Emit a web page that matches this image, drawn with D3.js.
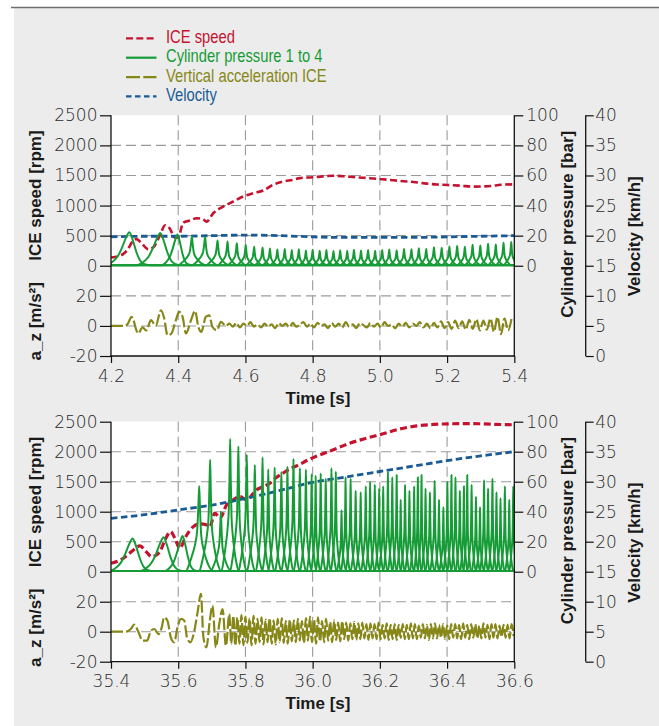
<!DOCTYPE html>
<html><head><meta charset="utf-8">
<script src="https://cdn.jsdelivr.net/npm/d3@7"></script>
<style>
html,body{margin:0;padding:0;background:#fff;}
svg{display:block;}
</style></head><body>
<svg id="chart" width="659" height="726"></svg>
<script>
// ---------------- DATA ----------------
const legendLabels = ["ICE speed", "Cylinder pressure 1 to 4", "Vertical acceleration ICE", "Velocity"];
const rpmTicks = [0, 500, 1000, 1500, 2000, 2500];
const azTicks = [-20, 0, 20];
const pressureTicks = [0, 20, 40, 60, 80, 100];
const velocityTicks = [0, 5, 10, 15, 20, 25, 30, 35, 40];
const topTimeTicks = [4.2, 4.4, 4.6, 4.8, 5.0, 5.2, 5.4];
const bottomTimeTicks = [35.4, 35.6, 35.8, 36.0, 36.2, 36.4, 36.6];

// --- top panel (4.2 .. 5.4 s)
const topSpeedT = [4.200,4.227,4.247,4.266,4.276,4.291,4.311,4.326,4.346,4.361,4.375,4.390,4.400,4.415,4.435,4.455,4.474,4.484,4.504,4.534,4.563,4.593,4.623,4.653,4.682,4.712,4.742,4.762,4.800,4.830,4.860,4.890,4.930,4.970,5.000,5.040,5.070,5.100,5.140,5.170,5.200,5.240,5.280,5.310,5.330,5.360,5.400];
const topSpeedRpm = [138,166,249,415,443,374,274,307,507,673,618,468,470,717,751,790,773,733,872,983,1066,1150,1205,1250,1345,1400,1428,1456,1470,1485,1495,1488,1470,1455,1441,1420,1405,1391,1365,1350,1342,1330,1314,1318,1325,1345,1353];
const topVelT = [4.2,4.3,4.4,4.5,4.6,4.7,4.8,4.9,5.0,5.1,5.2,5.3,5.4];
const topVelKmh = [19.8,19.9,19.9,20.0,20.1,20.0,19.8,19.7,19.7,19.7,19.8,19.9,20.0];
const topPeakT = [4.2545,4.3466,4.398,4.4407,4.480,4.517,4.5467,4.5744,4.601,4.626,4.651,4.673,4.695,4.717,4.738,4.759,4.780,4.800,4.821,4.841,4.862,4.882,4.903,4.923,4.944,4.965,4.986,5.007,5.028,5.050,5.072,5.094,5.116,5.138,5.161,5.184,5.207,5.230,5.253,5.276,5.299,5.322,5.345,5.368,5.391];
const topPeakBar = [22.3,21.8,20.7,19.5,19.1,16.8,16.1,14.9,13.8,12.6,12.2,11.5,10.8,11.2,10.4,10.9,10.2,10.6,10.0,10.5,9.8,10.3,9.9,10.6,10.1,10.4,9.9,10.5,10.8,10.3,11.2,10.9,11.6,11.2,12.3,11.9,12.8,13.2,12.6,13.9,13.4,14.6,14.1,15.3,15.8];
const topAzT = [4.200,4.240,4.250,4.2614,4.281,4.294,4.305,4.319,4.333,4.3486,4.3585,4.368,4.380,4.393,4.403,4.413,4.423,4.438,4.450,4.460,4.469,4.482,4.492,4.502,4.515,4.527,4.542];
const topAzV = [0,0,1.5,6,-5,-1,-3,3.8,0,10.4,4.9,-6.2,-5,3.8,9.3,6,-5,3.8,10,-0.7,-4,6,7,-0.7,-2.9,2.7,0];
// sampled every 0.0105 s starting at 4.552 s
const topAzTailStart = 4.552, topAzTailStep = 0.0105;
const topAzTail = [1.5,-0.5,2,-1,1.5,0,2.5,-0.5,1,-1,
  1.5,-0.5,1,-1.5,2,0,1.5,-1,2,-0.5,
  1,2.5,-0.5,1.5,-1,2,0,1,-1.5,2,
  -0.5,1.5,-1,2.5,-0.5,1,-1.5,2,0.5,-1,
  2,-0.5,1.5,-1,2.5,0,1,-1.5,1.5,-0.5,
  2,-1,1.5,0,2.5,-1,1.5,-1.5,2,-1,
  3,-1.5,2.5,-2,3.5,-1.5,3,-2.5,4,-2,
  4.5,-3,3.5,-2.5,5,-4,6,-5.5,5,-3,5];

// --- bottom panel (35.4 .. 36.6 s)
const botSpeedT = [35.400,35.430,35.460,35.486,35.505,35.521,35.545,35.560,35.577,35.590,35.605,35.620,35.645,35.664,35.680,35.694,35.709,35.724,35.744,35.765,35.783,35.803,35.833,35.853,35.873,35.890,35.912,35.935,35.962,35.985,36.010,36.060,36.110,36.160,36.210,36.260,36.310,36.360,36.410,36.460,36.500,36.550,36.600];
const botSpeedRpm = [140,200,330,429,330,250,330,520,668,560,390,560,751,796,790,751,975,891,1113,1200,1252,1197,1364,1420,1475,1560,1642,1720,1790,1860,1920,2030,2140,2225,2300,2380,2430,2455,2465,2468,2465,2455,2448];
const botVelT = [35.4,35.5,35.6,35.7,35.8,35.9,36.0,36.1,36.2,36.3,36.4,36.5,36.6];
const botVelKmh = [23.9,24.5,25.3,26.1,27.2,28.5,29.9,30.8,31.7,32.6,33.5,34.3,35.0];
const botPeakT = [35.4644,35.5565,35.613,35.6625,35.695,35.727,35.7546,35.779,35.804,35.828,35.851,35.868,35.887,35.907,35.925,35.943,35.962,35.980,35.997,36.009,36.024,36.039,36.056,36.069,36.086,36.098,36.113,36.128,36.143,36.158,36.171,36.185,36.198,36.210,36.224,36.237,36.250,36.262,36.275,36.288,36.302,36.313,36.324,36.336,36.349,36.363,36.376,36.389,36.401,36.413,36.425,36.438,36.450,36.460,36.473,36.486,36.498,36.510,36.522,36.535,36.547,36.559,36.572,36.585,36.597];
const botPeakBar = [22.2,22.9,23.8,57.1,74.6,40,88.4,83.5,78,71.2,76.2,68.3,69.5,66.5,70,75.2,69,68,65,64,65.5,62,69,66.7,41,63,62,54,53,57,60,58,55.5,57,66.7,63,64.4,48,58,54,57,63,64.4,55.5,53,60.7,48,43,60,64.4,63,54,57,64.4,58,50,43,61,55.5,62,53,49,57,48,57];
const botAzT = [35.400,35.4446,35.459,35.469,35.481,35.494,35.507,35.519,35.529,35.541,35.551,35.558,35.568,35.578,35.588,35.598,35.608,35.618,35.626,35.636,35.646,35.6576,35.6675,35.675,35.684,35.694,35.702,35.712,35.722,35.732,35.742];
const botAzV = [0,0,1.8,4.7,0.2,-6,-6,0.7,1.8,-1.6,2.9,9.6,7.3,-3.8,-7.1,2.9,8.5,7.5,-3.8,-7.1,-1.5,12.9,25.2,-3.8,-10.5,7.3,17.4,-10.5,5,15,-9.4];
// sampled every 0.006 s starting at 35.752 s
const botAzTailStart = 35.752, botAzTailStep = 0.006;
const botAzTail = [11.8,-8.2,10.7,-9.4,9.5,-8,11,-9,
  10,-7.5,9,-9,10.5,-8,8.5,-7,
  9.5,-8.5,8,-7,9,-8,7.5,-8.5,
  8.5,-7,9,-7.5,7,-8,8,-6.5,
  7.5,-7,8.5,-6,7,-7.5,9,-6,
  10,-7,8,-8,9.5,-6.5,7,-7,
  8.5,-6,6.5,-7,7.5,-5.5,6,-6.5,
  7,-5,6,-6,5.5,-5,6.5,-5.5,
  5.5,-5,6,-4.5,5,-5.5,5.5,-4.5,
  5,-5,6,-5,4.5,-4.5,5.5,-5.5,
  4.5,-5,5,-5.5,4.5,-4,5,-5,
  4.5,-5,5.5,-4.5,5,-5,4,-4,
  5,-4.5,4.5,-5.5,5,-4.5,5.5,-4.5,
  4.5,-4,5,-5,4,-5,5,-4,
  5,-4.5,4.5,-5,5.5,-4,4.5,-5,
  5,-4,5,-4.5,4,-4.5,5.5,-4,
  4.5,-5,5,-4,5,-4.5,4,-3.5,
  4.5,-4,4.5,-4.5,5,-3];

// ---------------- STYLE ----------------
const C = {red:"#c4132f", green:"#169c37", olive:"#878718", blue:"#1a5b96"};
const TICKFONT = "'DejaVu Sans', sans-serif";
const TITLEFONT = "'Liberation Sans', Arial, sans-serif";
const LEGFONT = "'Liberation Sans', Arial, sans-serif";

const svg = d3.select("#chart");
svg.append("rect").attr("x",14).attr("y",8).attr("width",645).attr("height",718).attr("fill","#ebeceb");
svg.append("line").attr("x1",11).attr("x2",659).attr("y1",7.5).attr("y2",7.5).attr("stroke","#6f6f6f").attr("stroke-width",1.6);

// legend
const legStyles = [
  {c:C.red, dash:"7,3.3", w:2.4},
  {c:C.green, dash:null, w:2.2},
  {c:C.olive, dash:"14,3.3", w:2.4},
  {c:C.blue, dash:"5.5,3.5", w:2.4}
];
const legBase = [43, 62.3, 81.7, 101];
legendLabels.forEach((lab,i)=>{
  const s = legStyles[i];
  const ln = svg.append("line").attr("x1",126).attr("x2",156.5)
    .attr("y1",legBase[i]-4.6).attr("y2",legBase[i]-4.6)
    .attr("stroke",s.c).attr("stroke-width",s.w);
  if (s.dash) ln.attr("stroke-dasharray",s.dash);
  svg.append("text").attr("transform",`translate(166,${legBase[i]}) scale(0.82,1)`).text(lab)
    .attr("fill",s.c).attr("font-family",LEGFONT).attr("font-size",18);
});

// peak outline shapes (offset in units of half-width, fraction of peak)
const roundShape = [[-1,0],[-0.75,0.08],[-0.5,0.26],[-0.3,0.55],[-0.15,0.82],[0,1],[0.15,0.75],[0.3,0.4],[0.45,0.15],[0.65,0.03],[0.9,0]];
const spikeShape = [[-1,0],[-0.75,0.08],[-0.5,0.2],[-0.3,0.32],[-0.15,0.48],[-0.06,0.78],[0,1],[0.06,0.72],[0.15,0.42],[0.3,0.27],[0.5,0.15],[0.75,0.05],[1,0]];

function drawPanel(cfg, idx) {
  const left = 111, right = 514.3, y0 = cfg.y0, step = cfg.step;
  const bottom = y0 + 8*step;
  const x = d3.scaleLinear().domain([cfg.ticks[0], cfg.ticks[cfg.ticks.length-1]]).range([left,right]);
  const yR = d3.scaleLinear().domain([0,2500]).range([y0+5*step, y0]);
  const yA = d3.scaleLinear().domain([-20,20]).range([y0+8*step, y0+6*step]);
  const yP = d3.scaleLinear().domain([0,100]).range([y0+5*step, y0]);
  const yV = d3.scaleLinear().domain([0,40]).range([y0+8*step, y0]);
  const g = svg.append("g");

  g.append("rect").attr("x",left).attr("y",y0).attr("width",right-left).attr("height",bottom-y0).attr("fill","#fff");

  // grid
  const grid = g.append("g").attr("stroke","#9a9a9a").attr("stroke-width",1.1).attr("stroke-dasharray","10,5");
  cfg.ticks.slice(1,-1).forEach(t=>grid.append("line").attr("x1",x(t)).attr("x2",x(t)).attr("y1",y0).attr("y2",bottom));
  [500,1000,1500,2000].forEach(r=>grid.append("line").attr("x1",left).attr("x2",right).attr("y1",yR(r)).attr("y2",yR(r)));
  [0,20].forEach(a=>grid.append("line").attr("x1",left).attr("x2",right).attr("y1",yA(a)).attr("y2",yA(a)));

  const clipId = "clip"+idx;
  svg.append("clipPath").attr("id",clipId).append("rect").attr("x",left).attr("y",y0-3).attr("width",right-left).attr("height",bottom-y0+3);
  const plot = g.append("g").attr("clip-path",`url(#${clipId})`);

  // ICE speed
  const spd = cfg.speedT.map((t,i)=>[t,cfg.speedRpm[i]]);
  plot.append("path").attr("d", d3.line().x(d=>x(d[0])).y(d=>yR(d[1])).curve(d3.curveMonotoneX)(spd))
    .attr("fill","none").attr("stroke",C.red).attr("stroke-width",cfg.redW).attr("stroke-dasharray","7,3.5");
  // velocity
  const vel = cfg.velT.map((t,i)=>[t,cfg.velKmh[i]]);
  plot.append("path").attr("d", d3.line().x(d=>x(d[0])).y(d=>yV(d[1])).curve(d3.curveMonotoneX)(vel))
    .attr("fill","none").attr("stroke",C.blue).attr("stroke-width",2.8).attr("stroke-dasharray","6.5,3.5");

  // cylinder pressures (4 cylinders fire in turn)
  const T = cfg.peakT, P = cfg.peakBar, n = T.length;
  const cyl = [[],[],[],[]];
  const t0 = x.domain()[0], t1 = x.domain()[1];
  cyl.forEach(c=>c.push([t0-0.2,0.4]));
  for (let i=0;i<n;i++) {
    const dPrev = i>0 ? T[i]-T[i-1] : T[1]-T[0];
    const dNext = i<n-1 ? T[i+1]-T[i] : dPrev;
    const avg = (dPrev+dNext)/2;
    const round = avg > 0.045;
    const h = round ? Math.min(avg, 0.07) : Math.min(avg, 0.04);
    (round ? roundShape : spikeShape).forEach(([dx,f])=>cyl[i%4].push([T[i]+dx*h, 0.4+(P[i]-0.4)*f]));
  }
  cyl.forEach(c=>c.push([t1+0.2,0.4]));
  const pl = d3.line().x(d=>x(d[0])).y(d=>yP(d[1])).curve(d3.curveMonotoneX);
  cyl.forEach(c=>plot.append("path").attr("d",pl(c)).attr("fill","none").attr("stroke",C.green).attr("stroke-width",2).attr("stroke-linejoin","round"));

  // vertical acceleration
  const az = cfg.azT.map((t,i)=>[t,cfg.azV[i]]).concat(cfg.azTail.map((v,i)=>[cfg.azTailStart+i*cfg.azTailStep, v]));
  plot.append("path").attr("d", d3.line().x(d=>x(d[0])).y(d=>yA(d[1])).curve(d3.curveMonotoneX)(az))
    .attr("fill","none").attr("stroke",C.olive).attr("stroke-width",2.2).attr("stroke-dasharray","12,3").attr("stroke-linejoin","round");

  // axes
  const styleAxis = sel => {
    sel.select(".domain").remove();
    sel.selectAll(".tick line").attr("stroke","#111").attr("stroke-width",1.2);
    sel.selectAll(".tick text").attr("font-family",TICKFONT).attr("font-size",17).attr("fill","#2a2a2a").attr("font-weight",300);
  };
  const fmtInt = d=>String(d);
  g.append("g").attr("transform",`translate(${left},0)`).call(d3.axisLeft(yR).tickValues(rpmTicks).tickFormat(fmtInt).tickSize(11).tickPadding(2.5)).call(styleAxis);
  g.append("g").attr("transform",`translate(${left},0)`).call(d3.axisLeft(yA).tickValues(azTicks).tickFormat(fmtInt).tickSize(11).tickPadding(2.5)).call(styleAxis);
  g.append("g").attr("transform",`translate(0,${bottom})`).call(d3.axisBottom(x).tickValues(cfg.ticks).tickFormat(d3.format(".1f")).tickSize(7).tickPadding(6.5)).call(styleAxis);
  g.append("g").attr("transform",`translate(${right},0)`).call(d3.axisRight(yP).tickValues(pressureTicks).tickFormat(fmtInt).tickSize(9).tickPadding(3)).call(styleAxis);
  g.append("g").attr("transform",`translate(585.7,0)`).call(d3.axisRight(yV).tickValues(velocityTicks).tickFormat(fmtInt).tickSize(8).tickPadding(1.5)).call(styleAxis);
  g.selectAll("text").attr("font-family",TICKFONT);

  const ax = g.append("g").attr("stroke","#111").attr("stroke-width",1.3);
  ax.append("line").attr("x1",left).attr("x2",left).attr("y1",y0).attr("y2",bottom+0.6);
  ax.append("line").attr("x1",left-0.6).attr("x2",right+0.6).attr("y1",bottom).attr("y2",bottom);
  ax.append("line").attr("x1",right).attr("x2",right).attr("y1",y0).attr("y2",bottom+0.6);
  ax.append("line").attr("x1",585.7).attr("x2",585.7).attr("y1",y0).attr("y2",bottom);

  // titles
  const title = (txt, tx, ty, rot) => {
    const t = g.append("text").attr("font-family",TITLEFONT).attr("font-weight","bold").attr("font-size",17)
      .attr("fill","#1a1a1a").attr("text-anchor","middle").text(txt);
    if (rot) t.attr("transform",`translate(${tx},${ty}) rotate(-90)`); else t.attr("x",tx).attr("y",ty);
  };
  title("ICE speed [rpm]", 40.5, y0+80.3, true);
  title("a_z [m/s²]", 40.5, y0+206, true);
  title("Cylinder pressure [bar]", 572.5, y0+109, true);
  title("Velocity [km/h]", 640, y0+121, true);
  title("Time [s]", 318, bottom+47.6, false);
}

drawPanel({y0:115.3, step:30.09, ticks:topTimeTicks, speedT:topSpeedT, speedRpm:topSpeedRpm, velT:topVelT, velKmh:topVelKmh, redW:2.6,
  peakT:topPeakT, peakBar:topPeakBar, azT:topAzT, azV:topAzV, azTail:topAzTail, azTailStart:topAzTailStart, azTailStep:topAzTailStep}, 0);
drawPanel({y0:421.7, step:30, ticks:bottomTimeTicks, speedT:botSpeedT, speedRpm:botSpeedRpm, velT:botVelT, velKmh:botVelKmh, redW:3.2,
  peakT:botPeakT, peakBar:botPeakBar, azT:botAzT, azV:botAzV, azTail:botAzTail, azTailStart:botAzTailStart, azTailStep:botAzTailStep}, 1);
</script></body></html>
